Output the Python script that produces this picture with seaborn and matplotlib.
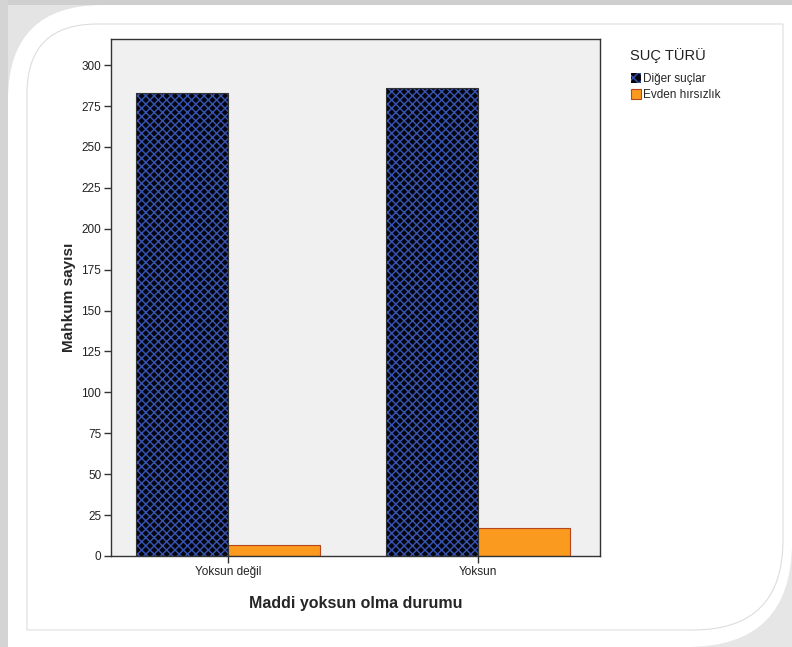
import numpy as np
import pandas as pd
import matplotlib
matplotlib.use("Agg")
import matplotlib.pyplot as plt
from matplotlib.path import Path
from matplotlib.patches import PathPatch, Rectangle, Patch
import seaborn as sns

# data
categories = ["Yoksun değil", "Yoksun"]
series_names = ["Diğer suçlar", "Evden hırsızlık"]
diger_suclar = [283, 286]
evden_hirsizlik = [7, 17]
yticks = [0, 25, 50, 75, 100, 125, 150, 175, 200, 225, 250, 275, 300]

df = pd.DataFrame({
    "durum": categories * 2,
    "tur": [series_names[0]] * 2 + [series_names[1]] * 2,
    "sayi": diger_suclar + evden_hirsizlik,
})

sns.set_style("white")
plt.rcParams["font.family"] = ["Liberation Sans", "DejaVu Sans"]
plt.rcParams["hatch.linewidth"] = 1.05

W, H = 792, 647
fig = plt.figure(figsize=(W / 100, H / 100), dpi=100, facecolor="white")


def px_path(x0, y0, x1, y1, r_tl, r_br):
    # rectangle in pixel coords (y down) with rounded top-left / bottom-right
    pts = [(x0, y1), (x0, y0 + r_tl), (x0, y0), (x0 + r_tl, y0), (x1, y0),
           (x1, y1 - r_br), (x1, y1), (x1 - r_br, y1), (x0, y1)]
    codes = [Path.MOVETO, Path.LINETO, Path.CURVE3, Path.CURVE3, Path.LINETO,
             Path.LINETO, Path.CURVE3, Path.CURVE3, Path.CLOSEPOLY]
    pts = [(x / W, 1 - y / H) for x, y in pts]
    return Path(pts, codes)


# decorative frame: soft shadows, white card, thin inner outline
for (x, y, w, h, c) in [(0, 0, 100, 100, "#e4e4e4"), (690, 550, 102, 97, "#e6e6e6"),
                        (0, 0, W, 5, "#cfcfcf"), (0, 0, 8, H, "#d4d4d4")]:
    fig.add_artist(Rectangle((x / W, 1 - (y + h) / H), w / W, h / H,
                             transform=fig.transFigure, color=c, lw=0, zorder=-30))
fig.add_artist(PathPatch(px_path(8, 5, 792, 647, 95, 105), transform=fig.transFigure,
                         facecolor="white", edgecolor="none", zorder=-20))
fig.add_artist(PathPatch(px_path(27, 24, 783, 630, 70, 90), transform=fig.transFigure,
                         facecolor="none", edgecolor="#dddddd", lw=0.8, zorder=-10))

ax = fig.add_axes([111 / W, 1 - 556 / H, (600 - 111) / W, (556 - 39) / H])
ax.set_facecolor("#f0f0f0")

sns.barplot(data=df, x="durum", y="sayi", hue="tur", order=categories,
            hue_order=series_names, palette=["#05050f", "#fa9a1e"],
            saturation=1, width=0.736, legend=False, ax=ax)

blue_face, blue_hatch = "#05050f", "#3654b0"
for p in list(ax.patches):
    fc = matplotlib.colors.to_hex(p.get_facecolor())
    if fc == blue_face:
        p.set_hatch("xxxx")
        p.set_edgecolor(blue_hatch)
        p.set_linewidth(0)
        ax.add_patch(Rectangle(p.get_xy(), p.get_width(), p.get_height(),
                               fill=False, ec="#333333", lw=0.8, zorder=3))
    else:
        p.set_edgecolor("#b8461c")
        p.set_linewidth(0.8)

ax.set_xlim(-0.468, 1.488)
ax.set_ylim(0, 316)
ax.set_yticks(yticks)
ax.set_yticklabels([str(v) for v in yticks], fontsize=8.5, color="#222222")
ax.tick_params(axis="x", labelsize=8.5, labelcolor="#222222")
ax.tick_params(axis="both", which="major", length=5, width=1, color="#333333",
               direction="out", left=True, bottom=True, pad=2)
for s in ax.spines.values():
    s.set_color("#333333")
    s.set_linewidth(1)
    s.set_visible(True)

ax.set_xlabel("Maddi yoksun olma durumu", fontsize=11.5, fontweight="bold",
              labelpad=13)
ax.set_ylabel("Mahkum sayısı", fontsize=11, fontweight="bold", labelpad=4)

fig.text(668 / W, 1 - 56 / H, "SUÇ TÜRÜ", ha="center", va="center",
         fontsize=10.5, color="#222222")
handles = [Patch(facecolor=blue_face, edgecolor=blue_hatch, hatch="xxx", lw=0),
           Patch(facecolor="#fa9a1e", edgecolor="#b8461c", lw=0.8)]
ax.legend(handles, series_names, loc="upper left",
          bbox_to_anchor=((631 - 111) / 489, (556 - 73) / 517), frameon=False,
          fontsize=8.5, handlelength=0.85, handleheight=0.85, handletextpad=0.2,
          labelspacing=0.35, borderpad=0, borderaxespad=0)

fig.savefig("out.png", dpi=100)
